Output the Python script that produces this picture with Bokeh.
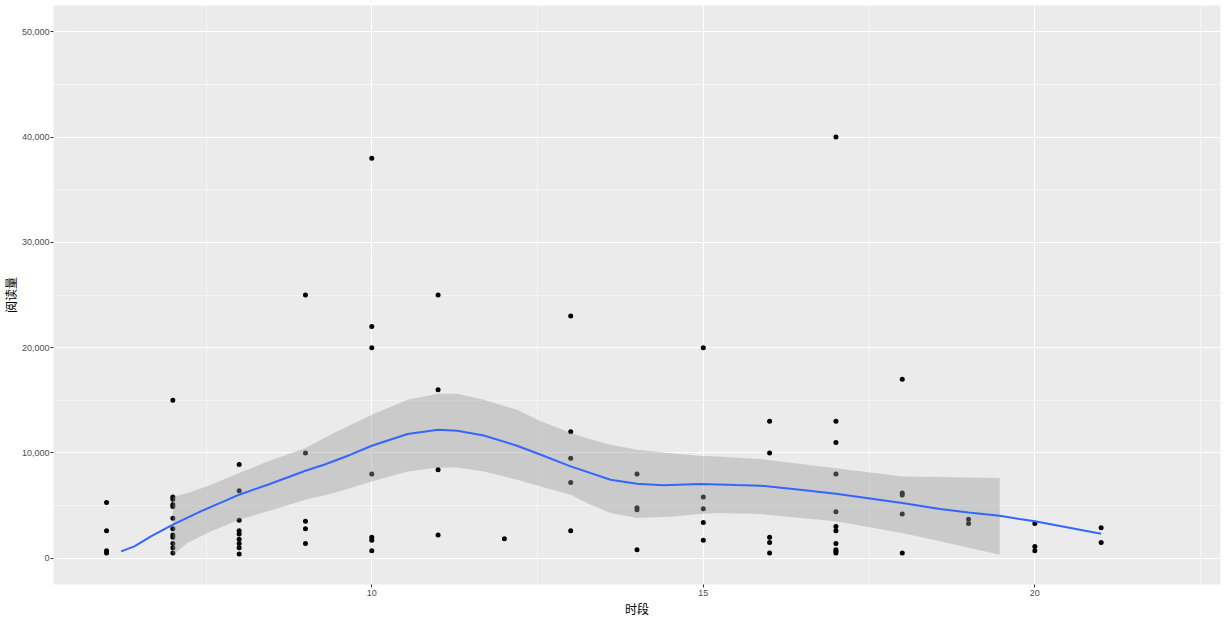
from bokeh.plotting import figure
from bokeh.models import Range1d, FixedTicker, NumeralTickFormatter
from bokeh.embed import file_html
from bokeh.resources import INLINE

# ---- data ----
hour = ([6] * 4 + [7] * 12 + [8] * 9 + [9] * 5 + [10] * 7 + [11] * 4 + [12] * 1 +
        [13] * 5 + [14] * 4 + [15] * 5 + [16] * 5 + [17] * 11 + [18] * 5 +
        [19] * 2 + [20] * 3 + [21] * 2)
reads = [5300, 2600, 700, 500,
         15000, 5800, 5600, 5100, 4900, 3800, 2800, 2200, 2000, 1400, 1000, 500,
         8900, 6400, 3600, 2600, 2300, 1800, 1400, 1000, 400,
         25000, 10000, 3500, 2800, 1400,
         38000, 22000, 20000, 8000, 2000, 1700, 700,
         25000, 16000, 8400, 2200,
         1850,
         23000, 12000, 9500, 7200, 2600,
         8000, 4800, 4600, 800,
         20000, 5800, 4700, 3400, 1700,
         13000, 10000, 2000, 1500, 500,
         40000, 13000, 11000, 8000, 4400, 3000, 2600, 1400, 800, 650, 500,
         17000, 6200, 6000, 4200, 500,
         3700, 3300,
         3300, 1100, 700,
         2900, 1500]

smooth_x = [6.22, 6.42, 6.67, 7.0, 7.42, 7.83, 8.0, 8.43, 9.0, 9.28, 9.68, 10.0,
            10.54, 11.0, 11.29, 11.69, 12.19, 12.55, 13.0, 13.6, 14.0, 14.4, 14.95,
            15.5, 15.86, 16.46, 17.0, 17.46, 18.0, 18.57, 19.0, 19.47, 19.77, 20.0,
            20.5, 21.0]
smooth_y = [650, 1120, 2070, 3180, 4450, 5560, 6030, 6980, 8310, 8880, 9830, 10680,
            11790, 12200, 12110, 11660, 10680, 9830, 8720, 7450, 7080, 6920, 7050,
            6950, 6890, 6510, 6130, 5720, 5240, 4670, 4350, 4040, 3720, 3500,
            2920, 2330]

band_x = [7.0, 7.22, 7.58, 8.0, 8.43, 9.0, 9.43, 10.0, 10.54, 11.0, 11.29, 11.69,
          12.19, 12.55, 13.0, 13.3, 13.6, 14.0, 14.55, 14.95, 15.21, 15.86, 17.0,
          18.0, 18.57, 19.47]
band_upper = [5800, 6190, 6980, 8090, 9190, 10470, 11890, 13630, 15050, 15620,
              15620, 15050, 14100, 13000, 11890, 11300, 10780, 10300, 9950, 9730,
              9650, 9420, 8550, 7770, 7700, 7610]
band_lower = [330, 1440, 2550, 3660, 4450, 5560, 6190, 7290, 8240, 8620,
              8620, 8240, 7450, 6820, 6030, 5080, 4290, 3820, 3970, 4200,
              4290, 4200, 3500, 2390, 1600, 330]

y_ticks = [0, 10000, 20000, 30000, 40000, 50000]
y_minor = [5000, 15000, 25000, 35000, 45000]
x_ticks = [10, 15, 20]
x_minor = [7.5, 12.5, 17.5, 22.5]

# ---- figure ----
p = figure(width=1226, height=619, output_backend="svg", toolbar_location=None,
           x_range=Range1d(5.2, 22.8), y_range=Range1d(-2500, 52500),
           min_border_left=53, min_border_right=6, min_border_top=5,
           min_border_bottom=35)
p.background_fill_color = "#EBEBEB"
p.border_fill_color = "white"
p.outline_line_color = None

p.xaxis.ticker = FixedTicker(ticks=x_ticks, minor_ticks=x_minor)
p.yaxis.ticker = FixedTicker(ticks=y_ticks, minor_ticks=y_minor)
p.yaxis.formatter = NumeralTickFormatter(format="0,0")

for ax in (p.xaxis, p.yaxis):
    ax.axis_line_color = None
    ax.major_tick_line_color = "#333333"
    ax.major_tick_out = 3
    ax.major_tick_in = 0
    ax.minor_tick_out = 0
    ax.minor_tick_in = 0
    ax.major_label_text_color = "#4D4D4D"
    ax.major_label_text_font = "Liberation Sans"
    ax.major_label_text_font_size = "9px"
    ax.major_label_standoff = 2
    ax.axis_label_text_font = "Noto Sans CJK SC"
    ax.axis_label_text_font_size = "12px"
    ax.axis_label_text_font_style = "normal"
    ax.axis_label_text_color = "black"
    ax.axis_label_standoff = 1

p.yaxis.major_label_standoff = 1
p.yaxis.axis_label_standoff = 0
p.yaxis.axis_label_text_font = "Liberation Sans, Noto Sans CJK SC"

p.xaxis.axis_label = "时段"
p.yaxis.axis_label = "阅读量"

for g in (p.xgrid, p.ygrid):
    g.grid_line_color = "white"
    g.grid_line_width = 1.1
    g.minor_grid_line_color = "white"
    g.minor_grid_line_width = 0.5

p.scatter(hour, reads, size=5, color="black", line_width=0)
p.varea(x=band_x, y1=band_lower, y2=band_upper, fill_color="#999999", fill_alpha=0.4)
p.line(smooth_x, smooth_y, line_color="#3366FF", line_width=2)

open("out.html", "w").write(file_html(p, INLINE))
